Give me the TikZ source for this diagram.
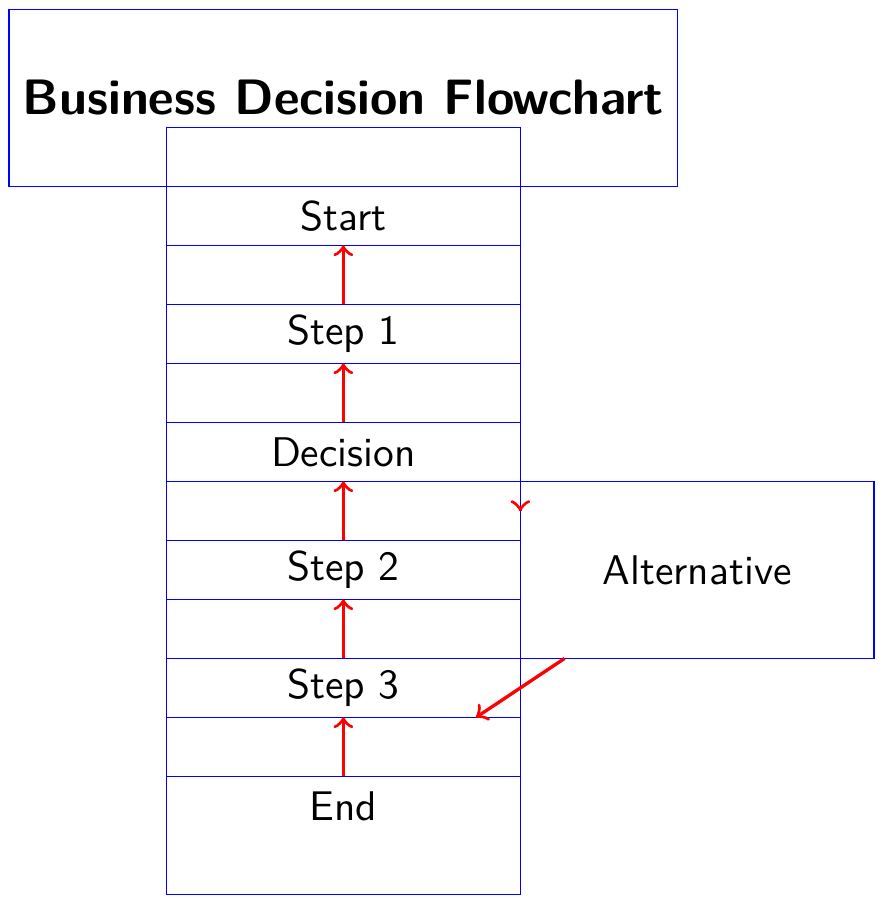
\documentclass[tikz,border=0pt]{standalone}
\usetikzlibrary{positioning}
\tikzset{block/.style={draw=blue, outer sep=0pt, minimum width=3cm, minimum height=1.5cm, font=\sffamily}}
\tikzset{flow/.style={->, thick, red}}

\begin{document}
\begin{tikzpicture}[node distance=-0.5cm]

    \useasboundingbox (-2.91,1.83) rectangle (4.59,-5.84);

    \node[block] (start) at (0,0) {Start};
    \node[block, above=of start, font=\sffamily\large\bfseries] (title) {Business Decision Flowchart};
    \node[block, below=of start] (step1) {Step 1};
    \node[block, below=of step1] (decision) {Decision};
    \node[block, below=of decision] (step2) {Step 2};
    \node[block, below=of step2] (step3) {Step 3};
    \node[block, below=of step3] (stop) {End};
    \node[block, right=0cm of step2] (alt) {Alternative};

    \foreach \a/\b in {start/step1, step1/decision, decision/step2, step2/step3, step3/stop, decision/alt, alt/stop} {
    \draw[flow] (\a) -- (\b);
    }

\end{tikzpicture}
\end{document}
